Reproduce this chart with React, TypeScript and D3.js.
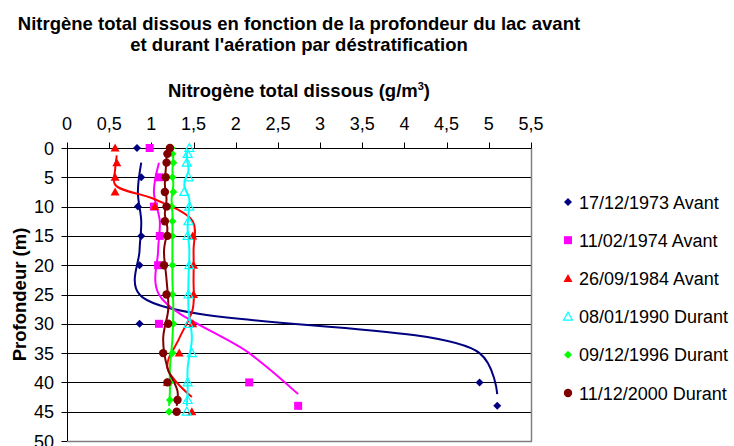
import React from "react";
import * as d3 from "d3";

// ---- Data ----
const xTicks = [0, 0.5, 1, 1.5, 2, 2.5, 3, 3.5, 4, 4.5, 5, 5.5];
const xTickLabels = ["0", "0,5", "1", "1,5", "2", "2,5", "3", "3,5", "4", "4,5", "5", "5,5"];
const yTicks = [0, 5, 10, 15, 20, 25, 30, 35, 40, 45, 50];

const depthsA = [0, 5, 10, 15, 20, 30, 40, 44];
const s1973 = [0.83, 0.88, 0.84, 0.88, 0.86, 0.86, 4.89, 5.1];
const s1974 = [0.98, 1.09, 1.03, 1.1, 1.08, 1.09, 2.16, 2.74];

const depths1984 = [0, 2.5, 5, 7.5, 10, 15, 20, 25, 30, 35, 40, 45];
const s1984 = [0.57, 0.59, 0.57, 0.57, 1.04, 1.49, 1.5, 1.5, 1.49, 1.33, 1.19, 1.48];

const depthsB = [0, 1, 2.5, 5, 7.5, 10, 12.5, 15, 20, 25, 30, 35, 40, 43, 45];
const s1990 = [1.45, 1.43, 1.42, 1.44, 1.39, 1.45, 1.44, 1.43, 1.45, 1.44, 1.44, 1.48, 1.43, 1.43, 1.42];
const s1996 = [1.24, 1.25, 1.26, 1.25, 1.26, 1.24, 1.25, 1.25, 1.25, 1.25, 1.26, 1.25, 1.22, 1.22, 1.21];
const s2000 = [1.22, 1.19, 1.18, 1.17, 1.16, 1.18, 1.16, 1.19, 1.15, 1.18, 1.2, 1.14, 1.19, 1.31, 1.3];

const seriesNames = [
  "17/12/1973 Avant",
  "11/02/1974 Avant",
  "26/09/1984 Avant",
  "08/01/1990 Durant",
  "09/12/1996 Durant",
  "11/12/2000 Durant",
];
const seriesColors = ["#000080", "#FF00FF", "#FF0000", "#00FFFF", "#00FF00", "#800000"];
const seriesShapes = ["diamond", "square", "triangle", "triangleOpen", "diamond", "circle"];
const seriesDepths = [depthsA, depthsA, depths1984, depthsB, depthsB, depthsB];
const seriesValues = [s1973, s1974, s1984, s1990, s1996, s2000];

// Excel-like 2-period moving-average trendline (depth averaged, value of later point)
function movingAverage(values: number[], depths: number[]) {
  const out: [number, number][] = [];
  for (let i = 1; i < values.length; i++) {
    out.push([values[i], (depths[i - 1] + depths[i]) / 2]);
  }
  return out;
}

const W = 734;
const H = 446;
const FONT = "'Liberation Sans', Arial, sans-serif";

function Marker({ shape, cx, cy, color }: { shape: string; cx: number; cy: number; color: string }) {
  if (shape === "diamond") {
    const r = 4;
    return <path d={`M${cx},${cy - r}L${cx + r},${cy}L${cx},${cy + r}L${cx - r},${cy}Z`} fill={color} />;
  }
  if (shape === "square") {
    const s = 8;
    return <rect x={cx - s / 2} y={cy - s / 2} width={s} height={s} fill={color} />;
  }
  if (shape === "triangle") {
    return <path d={`M${cx},${cy - 4.5}L${cx + 4.5},${cy + 3.5}L${cx - 4.5},${cy + 3.5}Z`} fill={color} />;
  }
  if (shape === "triangleOpen") {
    return (
      <path
        d={`M${cx},${cy - 4.5}L${cx + 4.5},${cy + 3.5}L${cx - 4.5},${cy + 3.5}Z`}
        fill="none"
        stroke={color}
        strokeWidth={1.2}
      />
    );
  }
  return <circle cx={cx} cy={cy} r={4.2} fill={color} />;
}

export default function App() {
  const x = d3.scaleLinear().domain([0, 5.5]).range([67, 531]);
  const y = d3.scaleLinear().domain([0, 50]).range([148, 441]);
  const line = d3
    .line<[number, number]>()
    .x((d) => x(d[0]))
    .y((d) => y(d[1]))
    .curve(d3.curveCatmullRom.alpha(0.5));

  const legendY = d3.scaleLinear().domain([0, 5]).range([202, 393]);

  return (
    <svg
      width={W}
      height={H}
      style={{ position: "fixed", left: 0, top: 0, background: "#fff" }}
      fontFamily={FONT}
    >
      <rect x={0} y={0} width={W} height={H} fill="#fff" />
      {/* Title */}
      <text x={299} y={30} textAnchor="middle" fontWeight="bold" fontSize={18.5}>
        Nitrgène total dissous en fonction de la profondeur du lac avant
      </text>
      <text x={299} y={51} textAnchor="middle" fontWeight="bold" fontSize={18.5}>
        et durant l'aération par déstratification
      </text>
      {/* X axis title */}
      <text x={299} y={97} textAnchor="middle" fontWeight="bold" fontSize={18.5}>
        Nitrogène total dissous (g/m
        <tspan dy={-7} fontSize={11}>
          3
        </tspan>
        <tspan dy={7}>)</tspan>
      </text>
      {/* Y axis title */}
      <text
        transform={`translate(25.5,${(y(0) + y(50)) / 2}) rotate(-90)`}
        textAnchor="middle"
        fontWeight="bold"
        fontSize={18.5}
      >
        Profondeur (m)
      </text>

      {/* gridlines */}
      {yTicks.slice(0, -1).map((t) => (
        <line key={"g" + t} x1={x(0)} x2={x(5.5)} y1={Math.round(y(t)) + 0.5} y2={Math.round(y(t)) + 0.5} stroke="#000" strokeWidth={1} />
      ))}
      {/* plot border right & bottom */}
      <line x1={x(5.5) + 0.5} x2={x(5.5) + 0.5} y1={y(0)} y2={Math.round(y(50)) + 0.5} stroke="#808080" strokeWidth={1.5} />
      <line x1={x(0)} x2={x(5.5) + 1} y1={Math.round(y(50)) + 0.5} y2={Math.round(y(50)) + 0.5} stroke="#808080" strokeWidth={1.5} />

      {/* X axis (top) */}
      <line x1={x(0)} x2={x(5.5)} y1={Math.round(y(0)) + 0.5} y2={Math.round(y(0)) + 0.5} stroke="#000" />
      {xTicks.map((t, i) => (
        <g key={"xt" + t}>
          <line x1={Math.round(x(t)) + 0.5} x2={Math.round(x(t)) + 0.5} y1={Math.round(y(0)) + 0.5} y2={y(0) - 5.5} stroke="#000" />
          <text x={x(t)} y={130} textAnchor="middle" fontSize={18}>
            {xTickLabels[i]}
          </text>
        </g>
      ))}
      {/* Y axis */}
      <line x1={Math.round(x(0)) + 0.5} x2={Math.round(x(0)) + 0.5} y1={y(0)} y2={y(50)} stroke="#000" />
      {yTicks.map((t) => (
        <g key={"yt" + t}>
          <line x1={x(0) - 5.5} x2={x(0)} y1={Math.round(y(t)) + 0.5} y2={Math.round(y(t)) + 0.5} stroke="#000" />
          <text x={54} y={y(t) + 6.5} textAnchor="end" fontSize={18}>
            {t}
          </text>
        </g>
      ))}

      {/* trendlines */}
      {seriesValues.map((vals, si) => (
        <path
          key={"l" + si}
          d={line(movingAverage(vals, seriesDepths[si])) || ""}
          fill="none"
          stroke={seriesColors[si]}
          strokeWidth={2}
        />
      ))}
      {/* markers */}
      {seriesValues.map((vals, si) => (
        <g key={"m" + si}>
          {vals.map((v, i) => (
            <Marker key={i} shape={seriesShapes[si]} cx={x(v)} cy={y(seriesDepths[si][i])} color={seriesColors[si]} />
          ))}
        </g>
      ))}

      {/* legend */}
      {seriesNames.map((n, i) => (
        <g key={"lg" + i}>
          <Marker shape={seriesShapes[i]} cx={568} cy={legendY(i)} color={seriesColors[i]} />
          <text x={579} y={legendY(i) + 6.5} fontSize={18}>
            {n}
          </text>
        </g>
      ))}
    </svg>
  );
}
